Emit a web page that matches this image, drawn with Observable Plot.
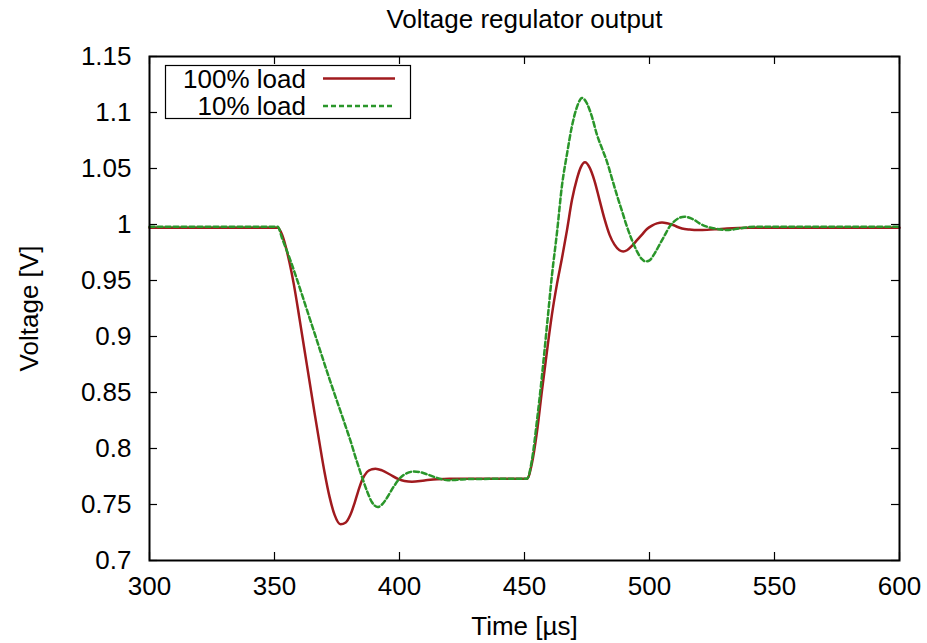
<!DOCTYPE html>
<html><head><meta charset="utf-8">
<script src="https://cdn.jsdelivr.net/npm/d3@7"></script>
<script src="https://cdn.jsdelivr.net/npm/@observablehq/plot@0.6"></script>
<style>
body{margin:0;background:#fff;}
#wrap{position:relative;width:927px;height:643px;}
#legend{position:absolute;left:165px;top:65px;overflow:visible;}
</style></head><body><div id="wrap"></div>
<script>
// ---- data ----
const titleText = "Voltage regulator output";
const xLabel = "Time [\u00b5s]";
const yLabel = "Voltage [V]";
const seriesNames = ["100% load", "10% load"];
const xTicks = [300, 350, 400, 450, 500, 550, 600];
const yTicks = [0.7, 0.75, 0.8, 0.85, 0.9, 0.95, 1, 1.05, 1.1, 1.15];

const redT = [300, 351.3, 353, 354.4, 356, 357.7, 360, 362, 364, 366, 368, 370, 372, 374, 376.4, 378.5, 380.4, 382, 383.5, 385.1, 387, 389, 390.4, 393, 396, 399.6, 402, 405, 410, 415, 420, 451,
  453, 455, 457, 459, 461, 463, 465, 467, 469, 471, 472.5, 474.2, 476, 478, 480, 482, 484, 486, 488, 489.5, 491, 493, 495, 497, 499, 501, 503, 505, 507, 509, 511, 513, 516, 519.5, 523, 527, 531, 540, 600];
const redV = [0.997, 0.997, 0.991, 0.981, 0.966, 0.947, 0.916, 0.888, 0.860, 0.832, 0.805, 0.779, 0.757, 0.741, 0.7324, 0.734, 0.741, 0.751, 0.762, 0.772, 0.779, 0.7815, 0.782, 0.7805, 0.777, 0.7726, 0.771, 0.7704, 0.7715, 0.7725, 0.773, 0.773,
  0.787, 0.815, 0.852, 0.887, 0.92, 0.947, 0.970, 0.995, 1.022, 1.041, 1.051, 1.0555, 1.051, 1.039, 1.022, 1.005, 0.991, 0.982, 0.977, 0.976, 0.977, 0.981, 0.986, 0.991, 0.996, 0.999, 1.001, 1.0018, 1.0012, 1.0, 0.998, 0.9965, 0.9955, 0.995, 0.9952, 0.9958, 0.9965, 0.997, 0.997];

const greenT = [300, 351.3, 353, 356.4, 364.4, 372, 377.7, 380.4, 383, 385.1, 387, 389, 391.3, 393, 395, 397.7, 400.4, 403, 405.7, 408, 411, 414, 417, 419.3, 423, 428, 451,
  453, 455, 457, 459, 461, 463, 465, 467, 469, 471, 473, 475, 477, 479, 481, 483, 485, 487, 489, 491, 493, 495, 497, 498.5, 500, 502, 504, 506, 508, 510, 512, 514, 516, 518, 520, 523, 527, 531, 536, 542, 600];
const greenV = [0.998, 0.998, 0.988, 0.9677, 0.914, 0.862, 0.8247, 0.8068, 0.788, 0.774, 0.762, 0.752, 0.7478, 0.750, 0.756, 0.766, 0.774, 0.778, 0.7794, 0.779, 0.777, 0.7745, 0.7725, 0.7717, 0.772, 0.7728, 0.773,
  0.79, 0.825, 0.865, 0.91, 0.955, 0.993, 1.035, 1.063, 1.088, 1.105, 1.113, 1.108, 1.096, 1.08, 1.068, 1.056, 1.041, 1.026, 1.012, 0.998, 0.986, 0.976, 0.969, 0.967, 0.968, 0.974, 0.982, 0.99, 0.998, 1.003, 1.006, 1.007, 1.006, 1.004, 1.001, 0.998, 0.996, 0.995, 0.9965, 0.998, 0.998];

// ---- style ----
const redColor = "#a01a1e";
const greenColor = "#2a962a";
const font = "'Liberation Sans', Arial, Helvetica, sans-serif";
const fs = 26;

const W = 927, H = 643;
const mL = 149, mR = 28, mT = 56, mB = 83;
const fw = W - mL - mR, fh = H - mT - mB;
const tickLen = 8;

const redData = redT.map((t, i) => ({t, v: redV[i]}));
const greenData = greenT.map((t, i) => ({t, v: greenV[i]}));

const chart = Plot.plot({
  width: W, height: H,
  marginLeft: mL, marginRight: mR, marginTop: mT, marginBottom: mB,
  style: {fontFamily: font, fontSize: fs + "px", color: "#000", background: "#fff", overflow: "visible"},
  x: {domain: [300, 600]},
  y: {domain: [0.7, 1.15]},
  marks: [
    Plot.line(redData, {x: "t", y: "v", stroke: redColor, strokeWidth: 2.5, curve: "monotone-x"}),
    Plot.line(greenData, {x: "t", y: "v", stroke: greenColor, strokeWidth: 2.5, strokeDasharray: "5,3", curve: "monotone-x"}),
    Plot.tickX(xTicks, {x: d => d, insetTop: fh - tickLen, stroke: "#000", strokeWidth: 1.2}),
    Plot.tickX(xTicks, {x: d => d, insetBottom: fh - tickLen, stroke: "#000", strokeWidth: 1.2}),
    Plot.tickY(yTicks, {y: d => d, insetRight: fw - tickLen, stroke: "#000", strokeWidth: 1.2}),
    Plot.tickY(yTicks, {y: d => d, insetLeft: fw - tickLen, stroke: "#000", strokeWidth: 1.2}),
    Plot.axisX(xTicks, {tickSize: 0, tickPadding: 16, label: null, tickFormat: d => String(d)}),
    Plot.axisY(yTicks, {tickSize: 0, tickPadding: 18, label: null, tickFormat: d => String(d)}),
    Plot.frame({stroke: "#000", strokeWidth: 2}),
    Plot.text([titleText], {frameAnchor: "top", lineAnchor: "middle", textAnchor: "middle", dy: -37, fill: "#000"}),
    Plot.text([xLabel], {frameAnchor: "bottom", lineAnchor: "middle", textAnchor: "middle", dy: 66, fill: "#000"}),
    Plot.text([yLabel], {frameAnchor: "left", lineAnchor: "middle", textAnchor: "middle", dx: -120, rotate: -90, fill: "#000"})
  ]
});
document.getElementById("wrap").appendChild(chart);

// ---- legend ----
const lg = d3.select("#wrap").append("svg").attr("id", "legend")
  .attr("width", 247).attr("height", 60)
  .style("font-family", font).style("font-size", fs + "px");
lg.append("rect").attr("x", 0.5).attr("y", 0.5).attr("width", 245).attr("height", 53)
  .attr("fill", "#fff").attr("stroke", "#000").attr("stroke-width", 1.2);
const colors = [redColor, greenColor];
const dashes = [null, "5,3"];
seriesNames.forEach((name, i) => {
  const cy = 13.5 + i * 27.5;
  lg.append("text").attr("x", 141).attr("y", cy).attr("dy", "0.35em")
    .attr("text-anchor", "end").attr("fill", "#000").text(name);
  lg.append("line").attr("x1", 158).attr("x2", 230).attr("y1", cy).attr("y2", cy)
    .attr("stroke", colors[i]).attr("stroke-width", 2.5).attr("stroke-dasharray", dashes[i]);
});
</script>
</body></html>
